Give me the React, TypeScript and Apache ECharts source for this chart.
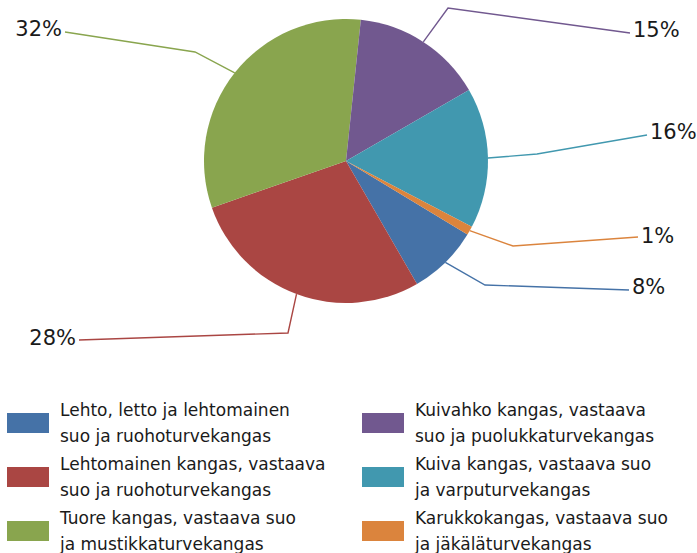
import React, { useEffect, useRef } from 'react';
import * as echarts from 'echarts';

const categories = [
  'Lehto, letto ja lehtomainen\nsuo ja ruohoturvekangas',
  'Lehtomainen kangas, vastaava\nsuo ja ruohoturvekangas',
  'Tuore kangas, vastaava suo\nja mustikkaturvekangas',
  'Kuivahko kangas, vastaava\nsuo ja puolukkaturvekangas',
  'Kuiva kangas, vastaava suo\nja varputurvekangas',
  'Karukkokangas, vastaava suo\nja jäkäläturvekangas',
];
const shares = [8, 28, 32, 15, 16, 1];
const colors = ['#4572A7', '#AA4643', '#89A54E', '#71588F', '#4198AF', '#DB843D'];

const leftLegendNames = categories.slice(0, 3);
const rightLegendNames = categories.slice(3, 6);

// Hand-placed label annotations (text anchor, elbow, line end), as in the source chart
const labelPlacement = [
  { text: [632, 287], elbow: [485, 285], end: [629, 290], align: 'left' },
  { text: [76, 338], elbow: [288, 333], end: [79, 340], align: 'right' },
  { text: [62, 29], elbow: [195, 52], end: [65, 32], align: 'right' },
  { text: [633, 30], elbow: [448, 8], end: [630, 33], align: 'left' },
  { text: [650, 132], elbow: [537, 154], end: [647, 135], align: 'left' },
  { text: [641, 236], elbow: [513, 246], end: [638, 237], align: 'left' },
];

const CX = 346;
const CY = 161;
const R = 142;
const START = 328.8;

export default function App() {
  const ref = useRef<HTMLDivElement>(null);
  useEffect(() => {
    if (!ref.current) return;
    const chart = echarts.init(ref.current, null, { renderer: 'svg' });
    const total = shares.reduce((a, b) => a + b, 0);
    const cum: number[] = [];
    let acc = 0;
    shares.forEach((s) => { cum.push(acc); acc += s; });

    const legendCommon = {
      orient: 'vertical' as const,
      top: 397,
      height: 170,
      padding: 0,
      itemGap: 2,
      itemWidth: 42,
      itemHeight: 20,
      icon: 'rect',
      selectedMode: false,
      textStyle: {
        fontFamily: 'DejaVu Sans',
        fontSize: 17,
        lineHeight: 26,
        color: '#1a1a1a',
        padding: [0, 0, 0, 6],
      },
    };

    chart.setOption({
      animation: false,
      color: colors,
      legend: [
        { ...legendCommon, left: 7, data: leftLegendNames },
        { ...legendCommon, left: 362, data: rightLegendNames },
      ],
      series: [
        {
          type: 'pie',
          center: [CX, CY],
          radius: R,
          startAngle: START,
          clockwise: true,
          avoidLabelOverlap: false,
          percentPrecision: 0,
          emphasis: { disabled: true },
          data: categories.map((name, i) => ({ name, value: shares[i] })),
          label: {
            show: true,
            position: 'outside',
            formatter: '{d}%',
            fontFamily: 'DejaVu Sans',
            fontSize: 21,
            color: '#1a1a1a',
          },
          labelLine: {
            show: true,
            length: 20,
            length2: 20,
            smooth: false,
            lineStyle: { width: 1.4 },
          },
          labelLayout: (p: any) => {
            const i = p.dataIndex;
            const a = labelPlacement[i];
            const mid = ((START - (360 * (cum[i] + shares[i] / 2)) / total) * Math.PI) / 180;
            const start = [CX + R * Math.cos(mid), CY - R * Math.sin(mid)];
            return {
              x: a.text[0],
              y: a.text[1],
              align: a.align,
              verticalAlign: 'middle',
              labelLinePoints: [start, a.elbow, a.end],
            };
          },
        },
      ],
    });
    return () => chart.dispose();
  }, []);
  return (
    <div
      ref={ref}
      style={{ position: 'fixed', left: 0, top: 0, width: 697, height: 553, background: '#fff' }}
    />
  );
}
